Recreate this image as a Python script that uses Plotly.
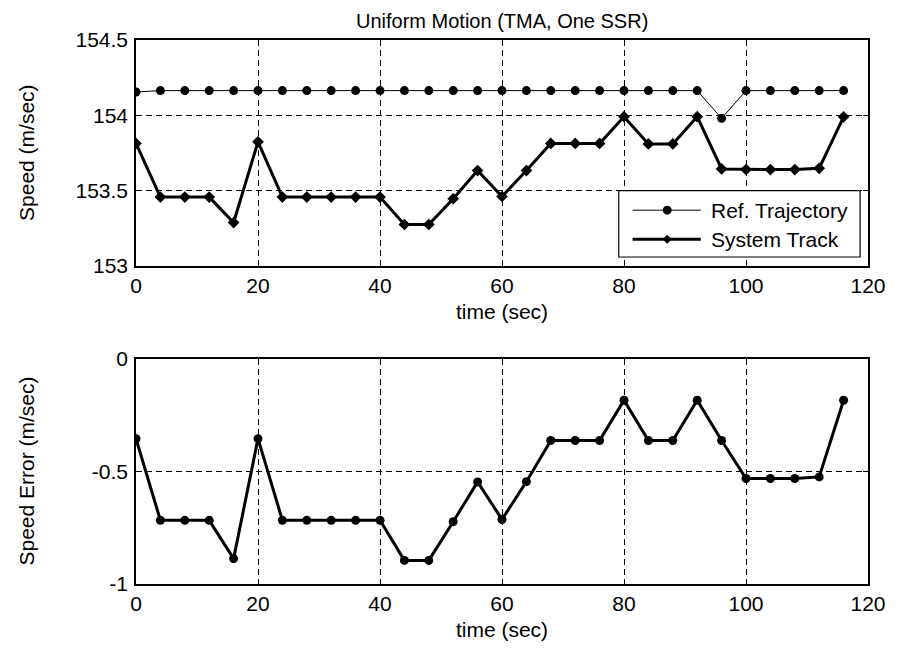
import plotly.graph_objects as go
from plotly.subplots import make_subplots

time_s = [0, 4, 8, 12, 16, 20, 24, 28, 32, 36, 40, 44, 48, 52, 56, 60, 64, 68, 72, 76,
          80, 84, 88, 92, 96, 100, 104, 108, 112, 116]

ref_speed = [154.155, 154.164, 154.164, 154.164, 154.164, 154.164, 154.164, 154.164, 154.164, 154.164,
             154.164, 154.164, 154.164, 154.164, 154.164, 154.164, 154.164, 154.164, 154.164, 154.164,
             154.164, 154.164, 154.164, 154.164, 153.980, 154.164, 154.164, 154.164, 154.164, 154.164]

track_speed = [153.813, 153.457, 153.457, 153.457, 153.288, 153.824, 153.457, 153.457, 153.457, 153.457,
               153.457, 153.275, 153.275, 153.446, 153.633, 153.461, 153.633, 153.813, 153.813, 153.813,
               153.991, 153.810, 153.810, 153.991, 153.644, 153.640, 153.640, 153.640, 153.648, 153.990]

speed_error = [-0.354, -0.717, -0.717, -0.717, -0.887, -0.354, -0.717, -0.717, -0.717, -0.717,
               -0.717, -0.895, -0.895, -0.723, -0.546, -0.713, -0.545, -0.362, -0.362, -0.362,
               -0.183, -0.362, -0.362, -0.183, -0.362, -0.531, -0.531, -0.531, -0.524, -0.183]

x_ticks = [0, 20, 40, 60, 80, 100, 120]
top_y_ticks = [153, 153.5, 154, 154.5]
top_y_labels = ["153", "153.5", "154", "154.5"]
bot_y_ticks = [-1, -0.5, 0]
bot_y_labels = ["-1", "-0.5", "0"]

legend_names = ["Ref. Trajectory", "System Track"]

FONT = "Liberation Sans, Arial, sans-serif"
FS = 21

fig = make_subplots(rows=2, cols=1, shared_xaxes=False, vertical_spacing=0.1)

fig.add_trace(go.Scatter(x=time_s, y=ref_speed, mode="lines+markers", name=legend_names[0],
                         line=dict(color="black", width=1),
                         marker=dict(symbol="circle", size=9, color="black")), row=1, col=1)
fig.add_trace(go.Scatter(x=time_s, y=track_speed, mode="lines+markers", name=legend_names[1],
                         line=dict(color="black", width=3),
                         marker=dict(symbol="diamond", size=9, color="black")), row=1, col=1)
fig.add_trace(go.Scatter(x=time_s, y=speed_error, mode="lines+markers", name="Speed Error",
                         line=dict(color="black", width=3),
                         marker=dict(symbol="circle", size=9, color="black")), row=2, col=1)

axis_common = dict(showline=True, linecolor="black", linewidth=1.5, mirror="ticks",
                   ticks="inside", ticklen=5, tickcolor="black", tickwidth=1,
                   showgrid=True, gridcolor="black", gridwidth=1, griddash="6px,4px",
                   zeroline=False, tickfont=dict(size=FS, color="black", family=FONT))

fig.update_xaxes(range=[0, 120], tickvals=x_ticks, domain=[0, 1], **axis_common)
fig.update_yaxes(ticklabelstandoff=2, **axis_common)
fig.update_yaxes(range=[153, 154.5], tickvals=top_y_ticks, ticktext=top_y_labels,
                 domain=[0.5847, 1], row=1, col=1)
fig.update_yaxes(range=[-1, 0], tickvals=bot_y_ticks, ticktext=bot_y_labels,
                 domain=[0, 0.4135], row=2, col=1)
fig.update_xaxes(title=dict(text="time (sec)", font=dict(size=FS, color="black", family=FONT), standoff=8))

fig.add_annotation(text="Uniform Motion (TMA, One SSR)", xref="paper", yref="paper",
                   x=0.5, y=1, yshift=19, showarrow=False, xanchor="center", yanchor="middle",
                   font=dict(size=20, color="black", family=FONT))
fig.add_annotation(text="Speed (m/sec)", xref="paper", yref="paper", textangle=-90,
                   x=0, xshift=-109, y=0.7923, showarrow=False, xanchor="center", yanchor="middle",
                   font=dict(size=FS, color="black", family=FONT))
fig.add_annotation(text="Speed Error (m/sec)", xref="paper", yref="paper", textangle=-90,
                   x=0, xshift=-109, y=0.2067, showarrow=False, xanchor="center", yanchor="middle",
                   font=dict(size=FS, color="black", family=FONT))

# Legend box drawn in paper coordinates (MATLAB style)
lg_x0, lg_x1, lg_y0, lg_y1 = 0.6595, 0.9892, 0.6011, 0.7231
row_y = [0.6872, 0.6339]
line_x0, line_x1, mark_x, text_x = 0.6784, 0.7716, 0.7257, 0.7824
line_w = [1, 3]

fig.add_shape(type="rect", xref="paper", yref="paper", x0=lg_x0, x1=lg_x1, y0=lg_y0, y1=lg_y1,
              line=dict(color="black", width=1.2), fillcolor="white", layer="above")
for i in range(2):
    fig.add_shape(type="line", xref="paper", yref="paper", x0=line_x0, x1=line_x1,
                  y0=row_y[i], y1=row_y[i], line=dict(color="black", width=line_w[i]), layer="above")
    fig.add_annotation(text=legend_names[i], xref="paper", yref="paper", x=text_x, y=row_y[i],
                       showarrow=False, xanchor="left", yanchor="middle",
                       font=dict(size=FS, color="black", family=FONT))
fig.add_shape(type="circle", xref="paper", yref="paper", xsizemode="pixel", ysizemode="pixel",
              xanchor=mark_x, yanchor=row_y[0], x0=-4.5, x1=4.5, y0=-4.5, y1=4.5,
              fillcolor="black", line=dict(color="black", width=0), layer="above")
fig.add_shape(type="path", xref="paper", yref="paper", xsizemode="pixel", ysizemode="pixel",
              xanchor=mark_x, yanchor=row_y[1], path="M0,4.5 L4.5,0 L0,-4.5 L-4.5,0 Z",
              fillcolor="black", line=dict(color="black", width=0), layer="above")

fig.update_layout(
    width=890, height=642,
    margin=dict(l=128, r=22, t=32, b=61),
    paper_bgcolor="white", plot_bgcolor="white",
    font=dict(family=FONT, color="black", size=FS),
    showlegend=False,
)

fig.write_html("out.html")
